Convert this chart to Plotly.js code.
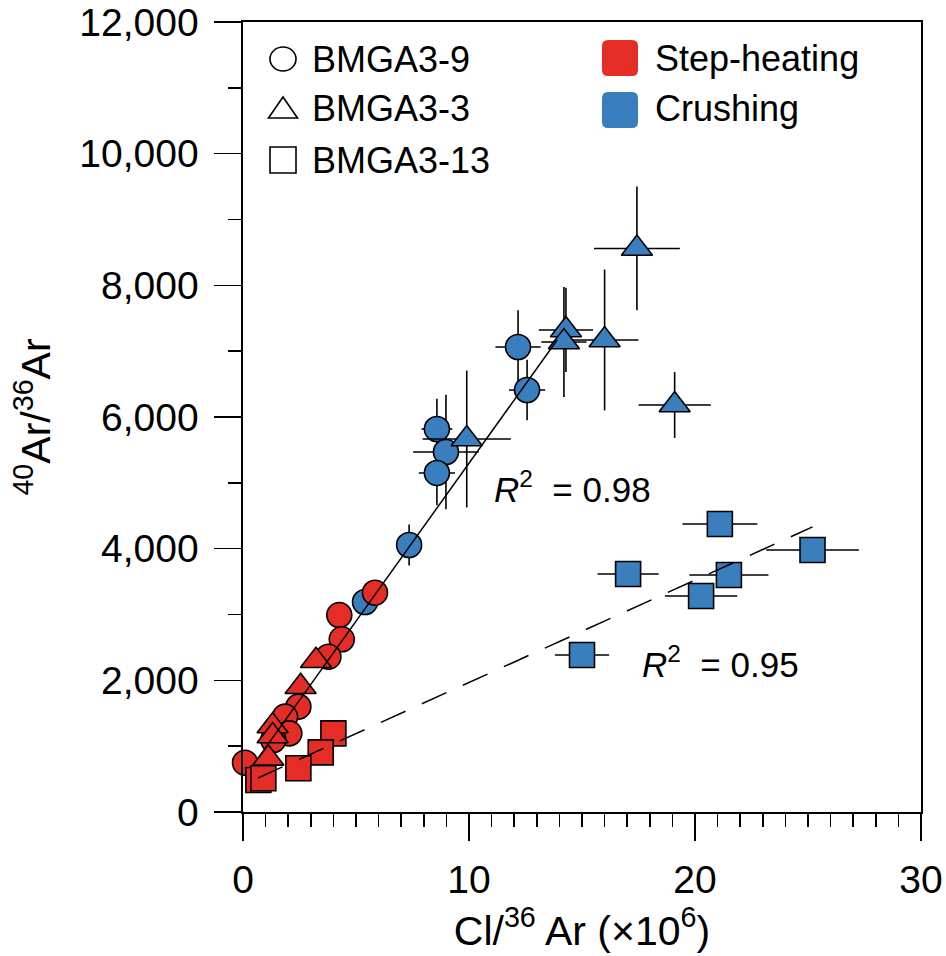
<!DOCTYPE html>
<html>
<head>
<meta charset="utf-8">
<script src="https://cdn.plot.ly/plotly-3.0.1.min.js"></script>
<style>html,body{margin:0;padding:0;background:#fff;}</style>
</head>
<body>
<div id="chart" style="width:946px;height:956px;"></div>
<script>
// ---- Data ----
// BMGA3-9 (circles), crushing
var c9CrushX  = [12.17, 12.57, 8.58, 8.98, 8.58, 7.35, 5.40];
var c9CrushY  = [7063, 6410, 5818, 5468, 5150, 4056, 3190];
var c9CrushEX = [1.00, 0.80, 0.68, 1.45, 0.80, 0.30, 0.0];
var c9CrushEY = [560, 460, 460, 870, 490, 310, 0];
// BMGA3-3 (triangles), crushing
var t3CrushX  = [17.43, 14.29, 14.20, 16.00, 19.10, 9.90];
var t3CrushY  = [8560, 7322, 7140, 7170, 6182, 5666];
var t3CrushEX = [1.90, 1.20, 1.00, 1.50, 1.60, 1.95];
var t3CrushEY = [940, 640, 835, 1070, 500, 1040];
// BMGA3-13 (squares), crushing
var s13CrushX  = [21.10, 17.04, 21.50, 20.27, 25.20, 15.00];
var s13CrushY  = [4375, 3615, 3600, 3281, 3980, 2385];
var s13CrushEX = [1.66, 1.35, 1.75, 1.60, 2.05, 1.20];
// Step-heating
var c9StepX = [5.84, 4.26, 4.37, 3.78, 2.45, 1.86, 2.05, 1.34, 0.09];
var c9StepY = [3331, 2992, 2623, 2359, 1600, 1448, 1195, 1094, 749];
var t3StepX = [3.23, 2.55, 1.31, 1.31, 1.12];
var t3StepY = [2298, 1903, 1307, 1155, 815];
var s13StepX = [4.00, 3.44, 2.45, 0.68, 0.90];
var s13StepY = [1195, 906, 664, 486, 512];
// Regression lines (end points)
var fitSolidX = [0.70, 13.90];
var fitSolidY = [834, 7170];
var fitDashX = [0.66, 25.20];
var fitDashY = [516, 4330];
// Labels
var r2Labels = ["<i>R</i><sup>2</sup>&nbsp; = 0.98", "<i>R</i><sup>2</sup>&nbsp; = 0.95"];
var r2X = [11.0, 17.57];
var r2Y = [4937, 2279];
var sampleNames = ["BMGA3-9", "BMGA3-3", "BMGA3-13"];
var methodNames = ["Step-heating", "Crushing"];
var xTitle = "Cl/<sup>36</sup> Ar (×10<sup>6</sup>)";
var yTitle = "<sup>40</sup>Ar/<sup>36</sup>Ar";

// ---- Styles ----
var RED = "#E32D26";
var BLUE = "#3A7EBE";
var FONT = "Liberation Sans, Arial, Helvetica, sans-serif";

function errBar(arr) {
  return {type: "data", array: arr, visible: true, width: 0, thickness: 1.6, color: "#000"};
}
function pts(x, y, sym, size, color, ex, ey) {
  var t = {
    type: "scatter", mode: "markers", x: x, y: y, cliponaxis: false,
    marker: {symbol: sym, size: size, color: color, line: {color: "#000", width: 1.6}},
    hoverinfo: "x+y", showlegend: false
  };
  if (ex) t.error_x = errBar(ex);
  if (ey) t.error_y = errBar(ey);
  return t;
}

var traces = [
  pts(c9CrushX, c9CrushY, "circle", 25, BLUE, c9CrushEX, c9CrushEY),
  pts(t3CrushX, t3CrushY, "triangle-up", 27, BLUE, t3CrushEX, t3CrushEY),
  pts(s13CrushX, s13CrushY, "square", 25, BLUE, s13CrushEX, null),
  pts(c9StepX, c9StepY, "circle", 25, RED),
  pts(t3StepX, t3StepY, "triangle-up", 27, RED),
  pts(s13StepX, s13StepY, "square", 25, RED),
  {type: "scatter", mode: "lines", x: fitSolidX, y: fitSolidY, cliponaxis: false,
   line: {color: "#000", width: 1.5}, showlegend: false, hoverinfo: "skip"},
  {type: "scatter", mode: "lines", x: fitDashX, y: fitDashY, cliponaxis: false,
   line: {color: "#000", width: 1.5, dash: "27px,18px"}, showlegend: false, hoverinfo: "skip"}
];

// plot area in pixels: x 243..921, y 22..812
function px2paperX(p) { return (p - 243) / 678; }
function px2paperY(p) { return (812 - p) / 790; }

var roundSq = "M -12 -18 L 12 -18 Q 18 -18 18 -12 L 18 12 Q 18 18 12 18 L -12 18 Q -18 18 -18 12 L -18 -12 Q -18 -18 -12 -18 Z";
var shapes = [
  {type: "circle", xref: "paper", yref: "paper", xsizemode: "pixel", ysizemode: "pixel",
   xanchor: px2paperX(283), yanchor: px2paperY(59), x0: -13, x1: 13, y0: -12, y1: 12,
   line: {color: "#000", width: 1.6}, fillcolor: "rgba(0,0,0,0)"},
  {type: "path", xref: "paper", yref: "paper", xsizemode: "pixel", ysizemode: "pixel",
   xanchor: px2paperX(283), yanchor: px2paperY(108),
   path: "M -14.5 -10 L 14.5 -10 L 0 11 Z", line: {color: "#000", width: 1.6}, fillcolor: "rgba(0,0,0,0)"},
  {type: "rect", xref: "paper", yref: "paper", xsizemode: "pixel", ysizemode: "pixel",
   xanchor: px2paperX(283), yanchor: px2paperY(160), x0: -13, x1: 13, y0: -13, y1: 13,
   line: {color: "#000", width: 1.6}, fillcolor: "rgba(0,0,0,0)"},
  {type: "path", xref: "paper", yref: "paper", xsizemode: "pixel", ysizemode: "pixel",
   xanchor: px2paperX(620), yanchor: px2paperY(58), path: roundSq,
   line: {width: 0}, fillcolor: RED},
  {type: "path", xref: "paper", yref: "paper", xsizemode: "pixel", ysizemode: "pixel",
   xanchor: px2paperX(620), yanchor: px2paperY(110), path: roundSq,
   line: {width: 0}, fillcolor: BLUE}
];

var legY = [59, 108, 160];
var annotations = [];
sampleNames.forEach(function (n, i) {
  annotations.push({xref: "paper", yref: "paper", x: px2paperX(310), y: px2paperY(legY[i]),
    xanchor: "left", yanchor: "middle", text: n, showarrow: false,
    font: {family: FONT, size: 36, color: "#000"}});
});
var methY = [58, 108];
methodNames.forEach(function (n, i) {
  annotations.push({xref: "paper", yref: "paper", x: px2paperX(653), y: px2paperY(methY[i]),
    xanchor: "left", yanchor: "middle", text: n, showarrow: false,
    font: {family: FONT, size: 36, color: "#000"}});
});
r2Labels.forEach(function (t, i) {
  annotations.push({xref: "x", yref: "y", x: r2X[i], y: r2Y[i], xanchor: "left", yanchor: "middle",
    text: t, showarrow: false, font: {family: FONT, size: 35, color: "#000"}});
});

var axisCommon = {
  showline: true, linecolor: "#000", linewidth: 1.6, mirror: true,
  ticks: "outside", ticklen: 27, tickwidth: 1.6, tickcolor: "#000",
  showgrid: false, zeroline: false,
  tickfont: {family: FONT, size: 39, color: "#000"}
};

var layout = {
  width: 946, height: 956,
  margin: {l: 243, r: 25, t: 22, b: 144, pad: 0},
  paper_bgcolor: "#fff", plot_bgcolor: "#fff",
  font: {family: FONT, color: "#000"},
  showlegend: false,
  xaxis: Object.assign({}, axisCommon, {
    range: [0, 30], dtick: 10, tick0: 0, ticklabelstandoff: 6,
    minor: {ticks: "outside", ticklen: 13, tickwidth: 1.6, tickcolor: "#000", dtick: 1, showgrid: false},
    title: {text: xTitle, font: {family: FONT, size: 41, color: "#000"}, standoff: 12}
  }),
  yaxis: Object.assign({}, axisCommon, {
    range: [0, 12000], dtick: 2000, tick0: 0, tickformat: ",d", ticklabelstandoff: 8,
    minor: {ticks: "outside", ticklen: 13, tickwidth: 1.6, tickcolor: "#000", dtick: 1000, showgrid: false},
    title: {text: yTitle, font: {family: FONT, size: 41, color: "#000"}, standoff: 16}
  }),
  shapes: shapes,
  annotations: annotations
};

Plotly.newPlot("chart", traces, layout, {displayModeBar: false, staticPlot: true});
</script>
</body>
</html>
